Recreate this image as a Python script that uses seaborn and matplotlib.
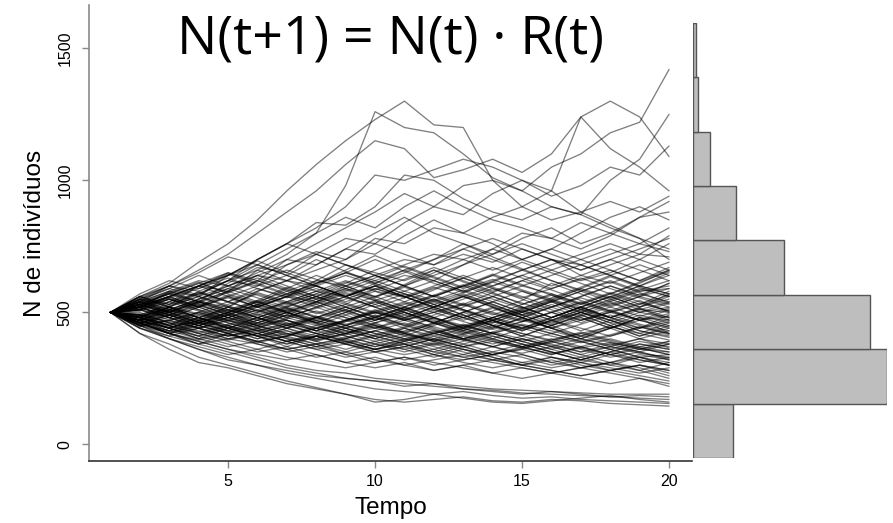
import numpy as np
import pandas as pd
import matplotlib
matplotlib.use("Agg")
import matplotlib.pyplot as plt
import seaborn as sns

# ---------------- data ----------------
tempo = list(range(1, 21))

trajetorias = [
    [500,560,610,690,760,850,960,1060,1150,1230,1300,1210,1200,1000,900,960,880,830,780,740],
    [500,540,600,660,720,800,880,960,1060,1150,1120,1010,1040,1080,1030,1100,1240,1300,1240,1090],
    [500,550,530,600,650,620,700,760,820,880,950,900,980,1000,960,1050,1100,1180,1220,1420],
    [500,520,580,560,640,700,760,820,900,1020,1000,1040,1080,1050,1000,960,1240,1120,1050,960],
    [500,480,540,600,580,660,720,800,980,1260,1200,1180,1100,1010,960,900,870,820,780,700],
    [500,560,520,580,620,700,760,840,830,900,1020,1000,930,880,850,900,870,1000,1080,1250],
    [500,530,570,540,610,670,650,720,780,760,840,900,870,950,1000,940,980,1050,1020,1130],
    [500,470,520,570,620,600,680,730,700,780,760,820,800,860,900,850,880,920,880,940],
    [500,540,580,620,600,650,700,680,740,800,860,800,760,720,780,820,760,800,860,880],
    [500,510,560,520,580,640,620,680,740,720,790,850,800,760,700,740,800,860,900,850],
    [500,460,500,540,520,580,620,600,560,610,660,620,680,740,800,780,740,790,860,920],
    [500,550,600,650,710,680,740,800,860,820,900,960,900,850,820,780,840,800,760,820],
    [500,530,500,550,600,640,600,560,610,660,700,680,720,690,740,700,660,700,740,780],
    [500,480,450,500,540,590,560,620,680,640,600,650,700,740,700,660,620,650,700,660],
    [500,520,560,600,640,700,760,720,680,650,620,660,620,580,620,660,700,740,700,760],
    [500,560,600,580,540,580,620,660,700,760,720,680,740,700,660,700,640,610,650,690],
    [500,470,440,480,520,500,540,580,560,600,640,620,580,620,660,700,680,720,760,730],
    [500,540,500,460,500,540,580,620,600,560,600,640,680,720,760,720,680,640,680,640],
    [500,510,550,520,480,520,560,540,600,640,680,720,700,660,700,740,700,660,620,670],
    [500,490,530,570,620,660,620,580,540,580,560,600,640,600,640,680,720,760,720,790],
    [500,460,490,450,490,530,570,610,650,620,660,700,740,780,740,700,660,700,660,620],
    [500,550,590,640,600,640,680,720,680,640,600,560,600,640,600,640,680,640,600,650],
    [500,520,480,520,560,520,560,600,560,600,560,520,560,600,640,600,640,680,720,710],
    [500,480,520,480,440,480,520,560,520,480,520,480,440,480,520,480,520,560,520,560],
    [500,530,560,520,480,440,480,520,560,600,560,520,560,520,480,440,480,440,480,450],
    [500,460,420,460,500,540,500,460,500,460,420,460,500,540,580,540,500,540,580,590],
    [500,520,560,600,560,520,480,520,480,440,480,520,560,520,480,520,480,440,400,430],
    [500,470,500,540,580,620,580,540,500,540,500,460,500,460,500,540,500,460,500,520],
    [500,540,580,540,500,460,500,540,580,620,580,620,580,540,500,540,580,540,500,480],
    [500,480,440,400,440,480,440,400,440,480,520,480,520,560,520,480,520,560,600,570],
    [500,510,480,520,560,600,640,600,560,520,480,440,400,440,480,440,400,440,480,420],
    [500,560,520,480,520,480,440,480,520,560,520,560,600,560,520,480,520,480,440,490],
    [500,450,490,530,490,450,410,450,490,530,570,530,490,450,490,530,490,530,570,540],
    [500,530,570,610,650,610,570,530,570,530,490,530,570,530,490,450,490,450,490,460],
    [500,490,450,410,450,410,370,410,450,490,450,490,530,490,530,570,530,570,530,580],
    [500,520,480,440,480,520,560,520,560,520,480,520,480,440,480,520,560,600,560,530],
    [500,470,430,470,510,470,510,550,590,550,510,470,430,470,430,470,510,470,430,410],
    [500,550,510,550,590,630,590,550,510,470,510,550,510,470,430,470,510,550,510,500],
    [500,480,520,560,520,480,520,480,440,400,440,400,440,480,440,480,520,480,520,550],
    [500,530,490,450,490,450,490,530,490,450,410,450,490,450,410,450,410,450,410,440],
    [500,460,420,380,420,460,500,460,500,540,500,460,500,540,500,540,580,620,580,600],
    [500,540,500,540,580,540,500,460,420,460,500,460,420,460,500,460,500,460,420,460],
    [500,510,550,510,470,510,470,430,470,510,470,510,550,590,550,510,470,510,470,510],
    [500,480,440,480,440,400,440,480,520,480,440,480,440,400,440,480,520,560,520,570],
    [500,520,560,600,640,680,640,600,560,600,560,520,480,520,480,440,400,440,480,470],
    [500,470,510,470,430,470,510,470,510,470,510,550,510,470,510,470,430,470,510,540],
    [500,530,570,530,490,530,570,610,650,610,570,530,490,450,410,450,490,450,410,450],
    [500,460,420,440,400,380,360,380,340,360,380,340,320,340,360,330,310,340,360,350],
    [500,480,440,400,420,380,350,370,340,310,330,300,320,340,310,290,310,280,300,270],
    [500,450,410,440,470,430,390,410,380,350,370,400,370,340,360,390,360,330,350,320],
    [500,520,480,440,410,440,400,370,400,430,400,370,340,370,340,310,330,360,330,300],
    [500,470,500,470,440,410,440,470,440,410,380,350,380,410,380,350,320,350,380,360],
    [500,540,500,460,430,400,420,390,360,390,420,390,360,330,300,320,290,310,280,250],
    [500,460,430,400,370,390,360,380,400,430,460,430,400,370,400,370,340,370,400,380],
    [500,490,450,420,450,480,450,420,390,360,390,420,450,420,390,360,390,360,330,340],
    [500,470,440,410,380,350,370,340,310,330,300,280,300,270,250,270,290,270,250,230],
    [500,530,490,450,420,390,410,380,350,380,410,380,350,320,340,310,290,310,330,310],
    [500,480,510,480,450,420,450,480,450,420,390,420,450,480,450,420,390,360,390,370],
    [500,450,420,390,360,340,320,340,310,290,310,280,300,320,300,280,260,280,260,240],
    [500,510,470,500,460,430,460,430,400,370,400,430,400,370,400,370,340,310,340,320],
    [500,470,430,460,490,460,430,400,430,460,490,460,430,400,370,340,370,400,370,390],
    [500,440,410,380,400,420,390,360,380,350,320,340,310,290,310,330,310,290,270,290],
    [500,520,550,510,480,450,420,390,420,390,360,330,360,330,300,330,300,280,300,280],
    [500,480,450,480,450,420,390,360,330,350,370,340,370,400,370,340,370,340,310,330],
    [500,460,490,460,420,390,410,440,410,380,350,380,410,380,410,380,350,380,350,380],
    [500,490,460,430,400,420,390,410,380,360,340,360,330,310,290,270,290,310,290,260],
    [500,530,500,460,430,460,490,460,430,400,370,400,370,340,370,400,370,340,370,350],
    [500,470,440,470,440,410,380,410,440,410,380,410,440,410,380,350,320,350,320,300],
    [500,450,470,440,410,430,400,370,390,360,380,350,330,350,330,300,320,300,280,310],
    [500,510,480,450,480,510,480,450,420,450,420,390,420,450,420,390,420,390,360,390],
    [500,460,420,450,420,390,360,330,350,320,300,320,340,320,300,280,260,280,300,280],
    [500,480,520,480,440,410,380,410,380,410,440,410,380,350,380,350,320,350,380,360],
    [500,440,400,370,340,360,330,310,290,310,330,310,290,270,290,270,250,230,250,220],
    [500,500,460,420,390,360,390,420,390,360,390,360,390,420,390,360,330,300,330,300],
    [500,420,360,310,290,260,230,210,190,170,160,170,180,165,160,170,165,155,150,145],
    [500,450,400,360,330,300,270,250,230,210,200,190,200,185,175,180,170,165,160,155],
    [500,470,420,380,350,320,290,270,250,240,220,230,210,200,190,200,190,180,175,170],
    [500,440,400,360,320,300,280,260,250,240,230,220,210,205,195,190,185,180,185,180],
    [500,460,420,390,360,330,300,280,270,250,240,230,220,210,205,200,195,190,190,190],
    [500,420,380,330,300,270,240,215,190,160,170,190,175,160,155,165,175,185,170,160],
    [500,545,505,470,520,575,540,495,530,590,560,515,470,505,545,610,570,525,560,610],
    [500,465,490,535,500,455,470,430,465,500,475,520,565,530,490,455,500,470,430,405],
    [500,520,575,615,570,535,590,640,600,555,605,660,615,575,530,565,520,480,515,470],
    [500,485,445,465,425,450,490,455,415,440,470,435,400,425,465,500,460,505,545,500],
    [500,555,600,565,620,680,640,700,655,610,650,700,760,710,665,620,580,615,575,535],
    [500,470,510,480,445,410,430,395,420,455,425,395,430,465,440,410,385,410,445,420],
    [500,515,490,525,565,530,500,540,585,545,510,475,440,470,505,545,590,555,600,640],
    [500,455,430,460,495,470,440,410,385,415,445,480,450,420,455,430,400,375,400,365],
    [500,535,575,540,505,545,595,560,520,485,520,565,530,575,620,585,545,505,470,495],
    [500,490,525,560,600,565,530,570,615,580,540,585,630,595,560,520,560,600,565,610],
    [500,470,440,410,440,470,500,465,430,400,430,460,425,395,370,395,425,395,365,340],
    [500,525,560,600,645,605,565,605,650,700,655,610,575,615,660,620,585,550,590,560],
    [500,480,455,490,460,430,455,485,450,420,395,425,455,420,390,420,455,490,455,430],
    [500,540,510,550,590,555,520,560,600,640,600,560,600,645,605,565,530,570,615,655],
    [500,460,480,450,420,440,470,440,470,505,475,445,415,445,475,440,470,500,470,485],
    [500,510,540,505,470,500,535,570,535,500,470,500,530,495,465,500,540,505,470,440],
    [500,570,620,590,640,695,650,610,660,715,670,630,590,625,585,550,590,635,595,560],
    [500,485,520,495,465,495,460,430,465,500,535,500,465,435,465,500,535,575,540,505],
    [500,455,420,395,415,385,410,440,410,380,360,385,360,340,365,390,365,340,320,300],
    [500,530,500,535,575,620,585,550,590,630,675,635,595,640,690,650,610,570,610,660],
    [500,495,460,425,455,490,455,420,450,485,455,420,395,420,450,420,390,415,445,415],
    [500,515,550,520,555,520,485,515,550,590,555,595,560,525,490,520,555,520,485,515],
    [500,450,470,500,470,445,475,505,480,450,425,455,480,450,420,395,420,445,420,395],
    [500,535,570,610,575,615,660,625,590,560,595,560,525,560,600,570,535,500,530,565],
    [500,470,505,540,510,480,515,485,455,480,450,420,445,470,440,470,500,470,440,465],
    [500,545,590,560,525,490,525,560,530,495,530,565,605,570,535,500,470,500,535,505],
    [500,480,450,420,395,420,450,420,395,370,395,420,395,370,345,370,400,370,345,330],
    [500,520,490,460,490,525,495,535,575,545,510,545,585,550,515,555,595,640,600,570],
    [500,465,440,470,500,530,500,470,440,470,500,465,435,470,505,470,440,410,440,475],
    [500,560,530,575,540,505,540,580,620,585,625,670,630,590,555,590,630,590,555,520],
    [500,490,465,440,470,440,415,440,470,440,415,390,415,390,365,385,410,385,360,380],
    [500,525,555,525,495,525,560,600,640,605,570,540,575,615,580,545,510,545,585,620],
    [500,460,425,450,480,450,420,395,420,445,420,395,370,390,365,345,365,385,365,340],
    [500,550,520,490,530,570,535,500,470,505,540,510,480,515,480,450,485,520,560,590],
    [500,475,510,545,510,480,450,480,510,545,580,545,510,480,510,545,510,480,450,420],
    [500,520,555,590,630,590,555,590,555,520,555,590,630,670,630,590,625,660,620,660],
    [500,445,470,440,410,435,405,380,405,430,400,375,400,425,400,375,350,370,350,325],
    [500,505,540,575,540,505,470,440,470,500,470,500,535,500,470,440,410,440,470,445],
    [500,530,495,465,500,540,505,540,505,470,505,540,505,470,435,465,500,535,500,535],
    [500,485,515,480,510,545,515,480,450,480,515,480,445,480,515,550,515,480,515,480],
]

hist_bins = [0, 200, 400, 600, 800, 1000, 1200, 1400, 1600]
hist_counts = [14, 68, 62, 32, 15, 6, 2, 1]

x_ticks = [5, 10, 15, 20]
y_ticks = [0, 500, 1000, 1500]

titulo = "N(t+1) = N(t) \u00b7 R(t)"
xlabel = "Tempo"
ylabel = "N de indiv\u00edduos"

# ---------------- long table ----------------
rows = []
for i, tr in enumerate(trajetorias):
    for t, n in zip(tempo, tr):
        rows.append((i, t, n))
df = pd.DataFrame(rows, columns=["id", "t", "N"])

# ---------------- figure ----------------
sns.set_theme(style="ticks")
plt.rcParams["font.family"] = ["Liberation Sans", "DejaVu Sans"]
plt.rcParams["text.color"] = "black"
plt.rcParams["axes.labelcolor"] = "black"
plt.rcParams["xtick.color"] = "black"
plt.rcParams["ytick.color"] = "black"

fig = plt.figure(figsize=(8.93, 5.23), dpi=100)
W, H = 893, 523

def rect(x0, y0, x1, y1):
    return [x0 / W, 1 - y1 / H, (x1 - x0) / W, (y1 - y0) / H]

ax = fig.add_axes(rect(89, 5, 692, 461))
axh = fig.add_axes(rect(692.7, 22.7, 887, 458))

sns.lineplot(data=df, x="t", y="N", units="id", estimator=None,
             color="black", alpha=0.5, linewidth=0.95, ax=ax, legend=False)

ax.set_xlim(0.27, 20.78)
ax.set_ylim(-63, 1664)
ax.set_xticks(x_ticks)
ax.set_yticks(y_ticks)
ax.set_xticklabels([str(v) for v in x_ticks], fontsize=11.5, color="black")
ax.set_yticklabels([str(v) for v in y_ticks], fontsize=11.5, rotation=90,
                   va="center", color="black")
ax.tick_params(axis="both", length=5, width=1, color="#888888", direction="out")
ax.tick_params(axis="y", pad=7)
ax.tick_params(axis="x", pad=4)
for s in ["top", "right"]:
    ax.spines[s].set_visible(False)
ax.spines["left"].set_color("#8a8a8a")
ax.spines["left"].set_linewidth(1.2)
ax.spines["bottom"].set_color("#333333")
ax.spines["bottom"].set_linewidth(1.2)
ax.set_xlabel(xlabel, fontsize=17.5, labelpad=6, color="black")
ax.set_ylabel(ylabel, fontsize=17.5, labelpad=8, color="black")
ax.set_facecolor("white")

ax.text(0.5, (461 - 54) / 456, titulo, transform=ax.transAxes,
        ha="center", va="baseline", fontsize=38.5, family=["Open Sans", "DejaVu Sans"],
        color="black")

# histogram of final sizes (horizontal)
lefts = hist_bins[:-1]
heights = [hist_bins[i + 1] - hist_bins[i] for i in range(len(lefts))]
axh.barh(lefts, hist_counts, height=heights, align="edge",
         color="#bebebe", edgecolor="#555555", linewidth=1.0)
axh.set_ylim(hist_bins[0], hist_bins[-1])
axh.set_xlim(0, max(hist_counts))
axh.axis("off")

fig.savefig("out.png", dpi=100, facecolor="white")
